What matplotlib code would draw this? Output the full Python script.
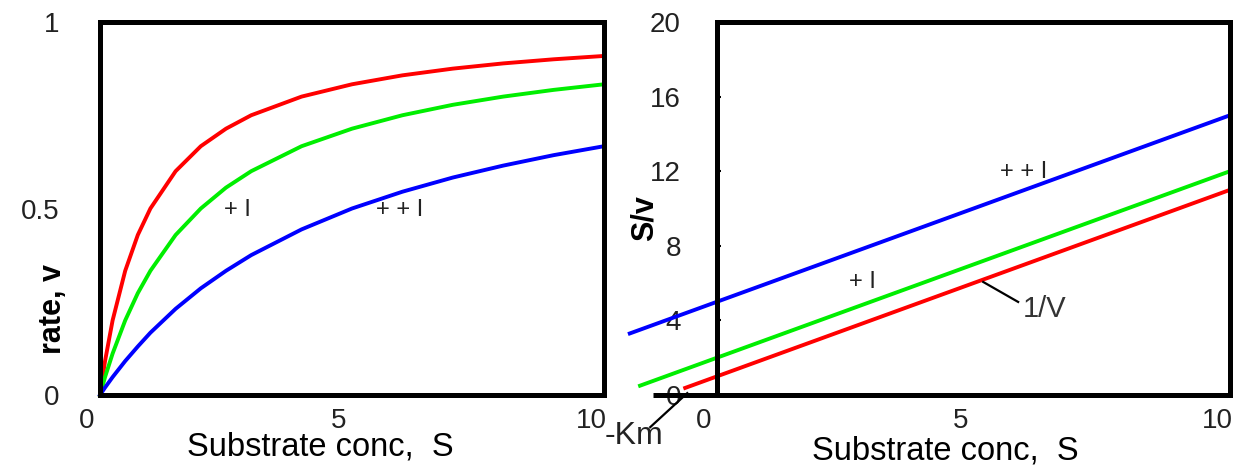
import matplotlib
matplotlib.use("Agg")
import matplotlib.pyplot as plt
import matplotlib.transforms as mtransforms

plt.rcParams['font.family'] = ['Liberation Sans', 'DejaVu Sans']

# ---- data: left panel (Michaelis-Menten rate curves) ----
S_mm = [0, 0.1, 0.25, 0.5, 0.75, 1, 1.5, 2, 2.5, 3, 4, 5, 6, 7, 8, 9, 10]
v_none = [0, .091, .2, .333, .429, .5, .6, .667, .714, .75, .8, .833, .857, .875, .889, .9, .909]
v_plusI = [0, .048, .111, .2, .273, .333, .429, .5, .556, .6, .667, .714, .75, .778, .8, .818, .833]
v_plusplusI = [0, .02, .048, .091, .13, .167, .231, .286, .333, .375, .444, .5, .545, .583, .615, .643, .667]

# ---- data: right panel (Hanes plot S/v vs S) ----
S_red = [-0.62, 10]
Sv_red = [0.38, 11.0]
S_green = [-1.5, 10]
Sv_green = [0.5, 12.0]
S_blue = [-1.7, 10]
Sv_blue = [3.3, 15.0]

left_xticks = [0, 5, 10]
left_yticks = [0, 0.5, 1]
left_yticklabels = ['0', '0.5', '1']
right_xticks = [0, 5, 10]
right_yticks = [0, 4, 8, 12, 16, 20]

RED, GREEN, BLUE = '#ff0000', '#00ee00', '#0000ff'
W, H = 1239, 466

fig = plt.figure(figsize=(W / 100, H / 100), dpi=100)

def box(x0, x1, y0, y1):
    return [x0 / W, 1 - y1 / H, (x1 - x0) / W, (y1 - y0) / H]

axL = fig.add_axes(box(100, 604, 22, 395))
axR = fig.add_axes(box(717, 1230, 22, 395))

lw_line = 2.8
spine_lw = 3.6
tick_fs = 20
tick_color = '#222222'

# left panel
axL.plot(S_mm, v_none, color=RED, lw=lw_line, clip_on=False)
axL.plot(S_mm, v_plusI, color=GREEN, lw=lw_line, clip_on=False)
axL.plot(S_mm, v_plusplusI, color=BLUE, lw=lw_line, clip_on=False)
axL.set_xlim(0, 10)
axL.set_ylim(0, 1)
axL.set_xticks(left_xticks)
axL.set_yticks(left_yticks)
axL.set_yticklabels(left_yticklabels)
axL.tick_params(axis='y', length=0, pad=29, labelsize=tick_fs, labelcolor=tick_color)
axL.tick_params(axis='x', length=0, pad=9, labelsize=tick_fs, labelcolor=tick_color)

# right panel
axR.plot(S_red, Sv_red, color=RED, lw=lw_line, clip_on=False)
axR.plot(S_green, Sv_green, color=GREEN, lw=lw_line, clip_on=False)
axR.plot(S_blue, Sv_blue, color=BLUE, lw=lw_line, clip_on=False)
axR.set_xlim(0, 10)
axR.set_ylim(0, 20)
axR.set_xticks(right_xticks)
axR.set_yticks(right_yticks)
axR.tick_params(axis='y', direction='in', length=3, width=1.5, pad=26, labelsize=tick_fs, labelcolor=tick_color)
axR.tick_params(axis='x', length=0, pad=9, labelsize=tick_fs, labelcolor=tick_color)
# extension of the S axis to the left of the box
axR.plot([-1.25, 0], [0, 0], color='black', lw=spine_lw, clip_on=False, solid_capstyle='butt')

for ax in (axL, axR):
    for sp in ax.spines.values():
        sp.set_linewidth(spine_lw)
        sp.set_color('black')
    offset = mtransforms.ScaledTranslation(-13 / 100, 0, fig.dpi_scale_trans)
    for lab in ax.get_xticklabels():
        lab.set_transform(lab.get_transform() + offset)

# axis labels
def ftext(px, py, s, va='center', **kw):
    fig.text(px / W, 1 - py / H, s, ha='center', va=va, **kw)

ftext(320, 456, 'Substrate conc,  S', va='baseline', fontsize=23.5)
ftext(945, 459, 'Substrate conc,  S', va='baseline', fontsize=23.5)
ftext(53, 309, 'rate, v', fontsize=22, rotation=90, fontweight='bold')
ftext(645, 218, 'S/v', fontsize=22, rotation=90, fontweight='bold')

# annotations
ann_fs = 17
axL.text(2.72, 0.496, '+ I', fontsize=ann_fs, ha='center', va='center', color='#222222')
axL.text(5.95, 0.496, '+ + I', fontsize=ann_fs, ha='center', va='center', color='#222222')
axR.text(2.83, 6.06, '+ I', fontsize=ann_fs, ha='center', va='center', color='#222222')
axR.text(5.98, 11.96, '+ + I', fontsize=ann_fs, ha='center', va='center', color='#222222')
axR.text(6.39, 4.6, '1/V', fontsize=21, ha='center', va='center', color='#333333', clip_on=False)
axR.plot([5.19, 5.87], [6.06, 4.99], color='black', lw=1.6, clip_on=False)
axR.text(-1.62, -2.2, '-Km', fontsize=23, ha='center', va='center', color='#222222', clip_on=False)
axR.plot([-1.3, -0.58], [-1.72, 0.1], color='black', lw=1.6, clip_on=False)

fig.savefig('out.png', dpi=100)
